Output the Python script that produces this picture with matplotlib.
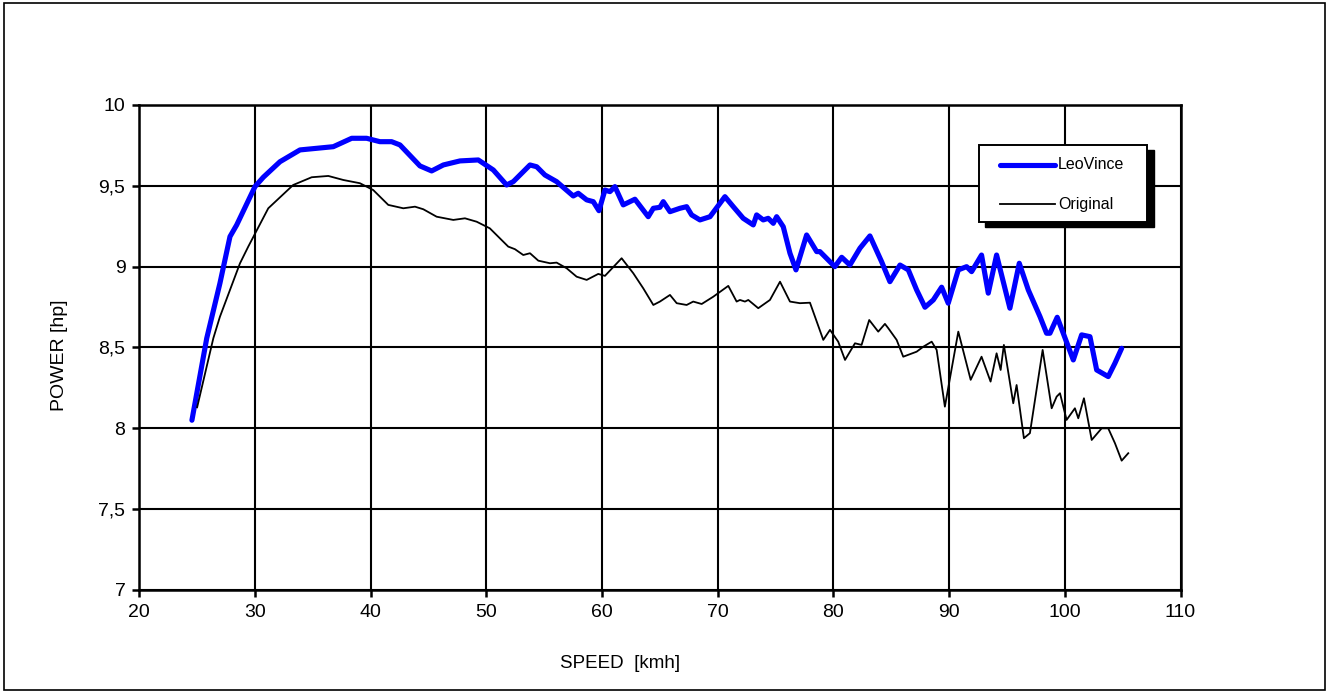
import numpy as np
import matplotlib.pyplot as plt
from matplotlib.ticker import MultipleLocator, FuncFormatter
from matplotlib.patches import Rectangle

plt.rcParams['font.family'] = ['Liberation Sans', 'DejaVu Sans']

# LeoVince curve (speed kmh, power hp)
leo_speed = [24.55, 25.83, 26.97, 27.84, 28.42, 30.0, 30.72, 32.16, 33.89, 36.77,
             38.36, 39.65, 40.8, 41.81, 42.53, 44.26, 45.27, 46.28, 47.72, 49.3,
             50.6, 51.75, 52.33, 53.77, 54.35, 55.06, 56.07, 57.51, 57.94, 58.67,
             59.24, 59.73, 60.25, 60.68, 61.11, 61.83, 62.84, 63.99, 64.43, 65.0,
             65.29, 65.87, 66.73, 67.31, 67.74, 68.46, 69.33, 70.62, 71.34, 72.2,
             73.07, 73.36, 73.93, 74.36, 74.8, 75.09, 75.66, 76.24, 76.76, 77.68,
             78.55, 78.83, 80.12, 80.71, 81.42, 82.29, 83.15, 84.16, 84.88, 85.75,
             86.47, 87.19, 87.91, 88.63, 89.35, 89.92, 90.79, 91.51, 91.94, 92.8,
             93.38, 94.1, 95.25, 96.06, 96.84, 97.85, 98.42, 98.71, 99.34, 100.73,
             101.45, 102.17, 102.75, 103.75, 104.33, 104.91]
leo_power = [8.05, 8.557, 8.897, 9.186, 9.258, 9.495, 9.553, 9.649, 9.722, 9.742,
             9.794, 9.794, 9.773, 9.773, 9.753, 9.623, 9.592, 9.629, 9.654, 9.66,
             9.598, 9.505, 9.526, 9.629, 9.618, 9.567, 9.526, 9.437, 9.454, 9.413,
             9.402, 9.346, 9.474, 9.464, 9.495, 9.382, 9.417, 9.309, 9.361, 9.367,
             9.402, 9.34, 9.361, 9.371, 9.32, 9.289, 9.309, 9.433, 9.371, 9.299,
             9.258, 9.32, 9.289, 9.299, 9.268, 9.309, 9.247, 9.083, 8.98, 9.196,
             9.093, 9.093, 9.0, 9.058, 9.01, 9.114, 9.19, 9.031, 8.907, 9.01,
             8.98, 8.856, 8.749, 8.794, 8.873, 8.774, 8.98, 9.0, 8.969, 9.072,
             8.836, 9.072, 8.743, 9.021, 8.856, 8.691, 8.588, 8.588, 8.687, 8.423,
             8.578, 8.567, 8.361, 8.32, 8.403, 8.495]

# Original curve
orig_speed = [25.0, 26.4, 26.97, 28.7, 29.42, 31.15, 33.3, 34.9, 36.34, 37.64,
              39.07, 40.22, 41.52, 42.82, 43.83, 44.55, 45.7, 47.14, 48.15, 49.16,
              50.3, 51.89, 52.47, 53.19, 53.77, 54.49, 55.5, 56.07, 56.94, 57.8,
              58.67, 59.67, 60.25, 61.69, 62.7, 63.56, 64.43, 65.0, 65.87, 66.45,
              67.31, 67.88, 68.61, 69.61, 70.91, 71.63, 71.92, 72.35, 72.64, 73.5,
              74.51, 75.38, 76.24, 77.1, 77.97, 79.12, 79.7, 80.41, 81.0, 81.86,
              82.43, 83.09, 83.87, 84.45, 84.74, 85.46, 86.03, 87.19, 87.77, 88.49,
              88.92, 89.63, 90.79, 91.86, 92.8, 93.58, 94.1, 94.45, 94.73, 95.54,
              95.83, 96.46, 96.98, 98.08, 98.86, 99.29, 99.58, 100.15, 100.87, 101.16,
              101.65, 102.32, 103.18, 103.75, 104.33, 104.91, 105.48]
orig_power = [8.13, 8.557, 8.69, 9.02, 9.124, 9.361, 9.505, 9.553, 9.561, 9.536,
              9.516, 9.474, 9.382, 9.361, 9.371, 9.355, 9.309, 9.289, 9.299, 9.278,
              9.237, 9.124, 9.108, 9.072, 9.083, 9.037, 9.021, 9.025, 8.99, 8.938,
              8.918, 8.955, 8.943, 9.052, 8.959, 8.866, 8.763, 8.784, 8.825, 8.774,
              8.763, 8.784, 8.769, 8.814, 8.881, 8.784, 8.794, 8.784, 8.794, 8.743,
              8.794, 8.907, 8.784, 8.774, 8.777, 8.547, 8.609, 8.536, 8.423, 8.526,
              8.516, 8.67, 8.598, 8.646, 8.619, 8.547, 8.443, 8.474, 8.505, 8.536,
              8.485, 8.134, 8.598, 8.3, 8.443, 8.289, 8.464, 8.361, 8.516, 8.155,
              8.268, 7.939, 7.97, 8.485, 8.124, 8.196, 8.217, 8.052, 8.124, 8.062,
              8.186, 7.928, 8.0, 8.0, 7.908, 7.8, 7.846]

fig = plt.figure(figsize=(13.29, 6.92), dpi=100)
ax = fig.add_axes([0.1048, 0.1474, 0.7835, 0.7009])

# outer frame around the whole picture
fig.patches.append(Rectangle((0.003, 0.003), 0.994, 0.992, transform=fig.transFigure,
                             fill=False, edgecolor='black', linewidth=1.2))

ax.plot(leo_speed, leo_power, color='#0000ff', linewidth=3.7,
        solid_joinstyle='round', solid_capstyle='round')
ax.plot(orig_speed, orig_power, color='black', linewidth=1.3)

ax.set_xlim(20, 110)
ax.set_ylim(7, 10)
ax.xaxis.set_major_locator(MultipleLocator(10))
ax.yaxis.set_major_locator(MultipleLocator(0.5))
ax.yaxis.set_major_formatter(FuncFormatter(lambda v, p: f'{v:g}'.replace('.', ',')))
ax.grid(True, color='black', linewidth=1.5)
ax.set_axisbelow(True)
for s in ax.spines.values():
    s.set_linewidth(1.8)
ax.tick_params(direction='out', length=5, width=1.8, labelsize=14, pad=5)

fig.text(620 / 1329, 1 - 663 / 692, 'SPEED  [kmh]', fontsize=13.5, ha='center', va='center')
fig.text(60 / 1329, 1 - 355 / 692, 'POWER [hp]', fontsize=14, rotation=90,
         ha='center', va='center')

# legend box with hard black shadow
ax.add_patch(Rectangle((0.8121, 0.7491), 0.1623, 0.1591, transform=ax.transAxes,
                       facecolor='black', edgecolor='black', zorder=5, clip_on=False))
ax.add_patch(Rectangle((0.8067, 0.7581), 0.1613, 0.1594, transform=ax.transAxes,
                       facecolor='white', edgecolor='black', linewidth=1.4, zorder=6,
                       clip_on=False))
ax.plot([0.8263, 0.8791], [0.8763, 0.8763], transform=ax.transAxes, color='#0000ff',
        linewidth=3.7, solid_capstyle='round', zorder=7)
ax.plot([0.8263, 0.8791], [0.7953, 0.7953], transform=ax.transAxes, color='black',
        linewidth=1.3, zorder=7)
ax.text(0.8823, 0.8763, 'LeoVince', transform=ax.transAxes, fontsize=11.5,
        va='center', ha='left', zorder=7)
ax.text(0.8823, 0.7953, 'Original', transform=ax.transAxes, fontsize=11.5,
        va='center', ha='left', zorder=7)

fig.savefig('out.png', dpi=100)
